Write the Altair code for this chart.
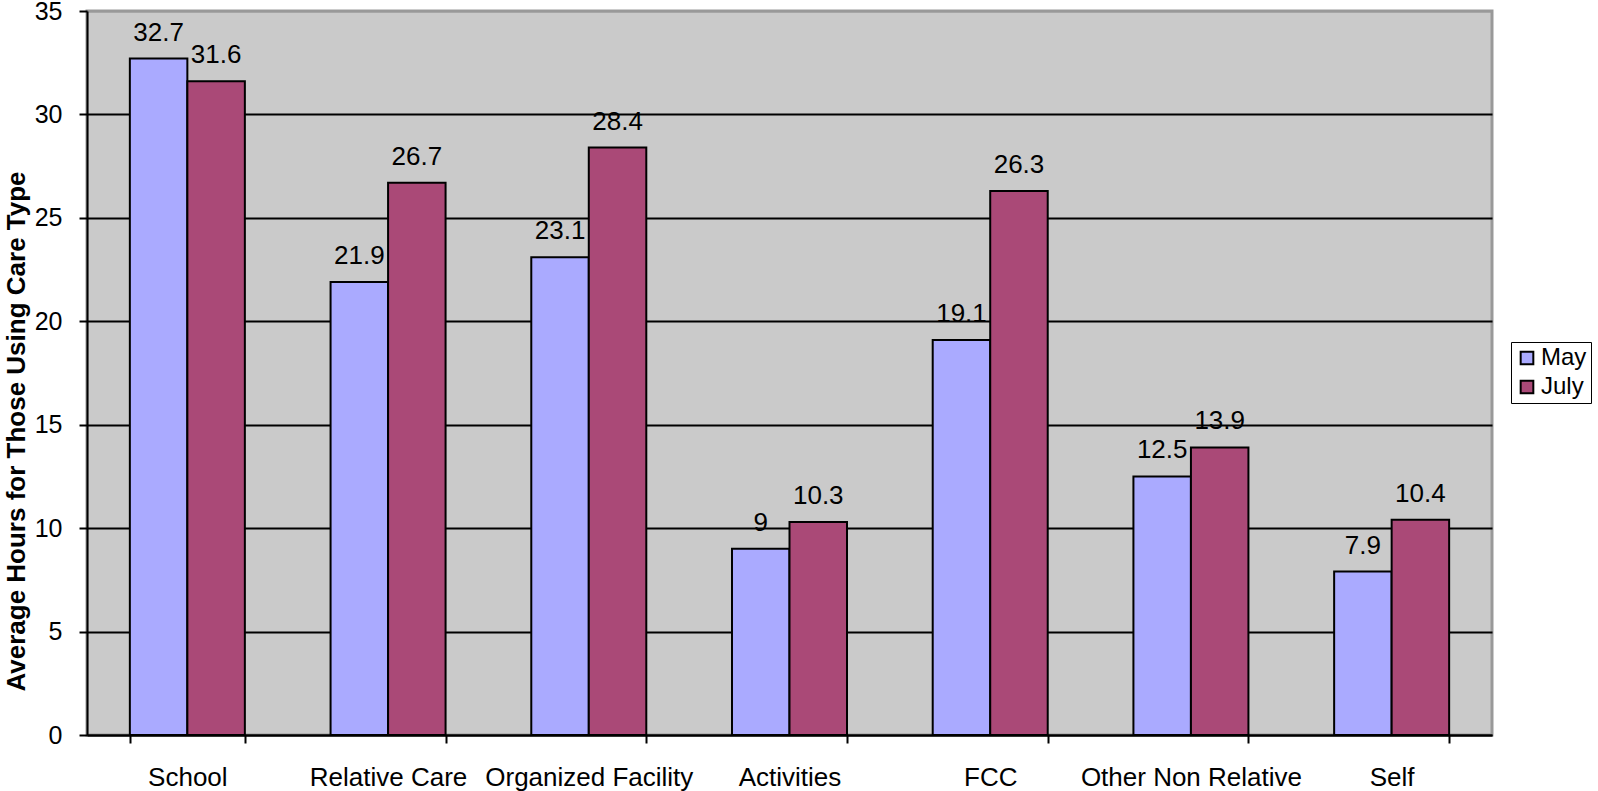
import altair as alt
import pandas as pd

categories = ["School", "Relative Care", "Organized Facility", "Activities",
              "FCC", "Other Non Relative", "Self"]
may_hours = [32.7, 21.9, 23.1, 9, 19.1, 12.5, 7.9]
july_hours = [31.6, 26.7, 28.4, 10.3, 26.3, 13.9, 10.4]
series = ["May", "July"]
colors = ["#AAAAFF", "#AA4977"]
y_ticks = [0, 5, 10, 15, 20, 25, 30, 35]

rows = []
for c, m, j in zip(categories, may_hours, july_hours):
    rows.append({"Care": c, "Month": "May", "Hours": m, "label": f"{m:g}"})
    rows.append({"Care": c, "Month": "July", "Hours": j, "label": f"{j:g}"})
df = pd.DataFrame(rows)

FONT = "Liberation Sans"

x_enc = alt.X(
    "Care:N", sort=categories,
    scale=alt.Scale(paddingInner=0.427, paddingOuter=0.2135),
    axis=alt.Axis(title=None, labelAngle=0, labelFontSize=26, labelFont=FONT,
                  labelColor="black", labelLimit=0, tickBand="extent", tickSize=8,
                  tickColor="black", tickWidth=2, domainColor="black",
                  domainWidth=2, labelPadding=21, grid=False),
)
y_enc = alt.Y(
    "Hours:Q",
    scale=alt.Scale(domain=[0, 35], nice=False),
    axis=alt.Axis(
        title="Average Hours for Those Using Care Type", values=y_ticks,
        titleFont=FONT, titleFontSize=26, titleFontWeight="bold",
        titleColor="black", titleAngle=270, titleAlign="center",
        titleBaseline="middle", titleX=-71, titleY=420,
        labelFont=FONT, labelFontSize=25, labelColor="black", labelPadding=17,
        tickSize=8, tickColor="black", tickWidth=2,
        domainColor="black", domainWidth=2,
        grid=True, gridWidth=2,
        gridColor={"condition": {"test": "datum.value >= 35", "value": "#999999"},
                   "value": "black"},
    ),
)
xoff = alt.XOffset("Month:N", sort=series)

bars = alt.Chart(df).mark_bar(stroke="black", strokeWidth=2).encode(
    x=x_enc, y=y_enc, xOffset=xoff,
    color=alt.Color(
        "Month:N", sort=series,
        scale=alt.Scale(domain=series, range=colors),
        legend=alt.Legend(
            title=None, orient="none", legendX=1424, legendY=331,
            symbolType="square", symbolSize=160, symbolStrokeColor="black",
            symbolStrokeWidth=2, labelFont=FONT, labelFontSize=24,
            labelColor="black", strokeColor="black", fillColor="white",
            padding=4, rowPadding=5, labelOffset=2, symbolOpacity=1,
        ),
    ),
)

labels = alt.Chart(df).mark_text(
    dy=-18, baseline="alphabetic", align="center", fontSize=26, font=FONT,
    color="black",
).encode(x=alt.X("Care:N", sort=categories), y="Hours:Q", xOffset=xoff,
         text="label:N")

chart = alt.layer(bars, labels).properties(
    width=1405, height=724,
    autosize=alt.AutoSizeParams(type="none"),
    padding={"left": 87, "top": 11, "right": 106, "bottom": 56},
    background="white",
).configure_view(fill="#CACACA", stroke="#999999", strokeWidth=3)

chart.save("out.html", embed_options={"renderer": "svg", "actions": False})
